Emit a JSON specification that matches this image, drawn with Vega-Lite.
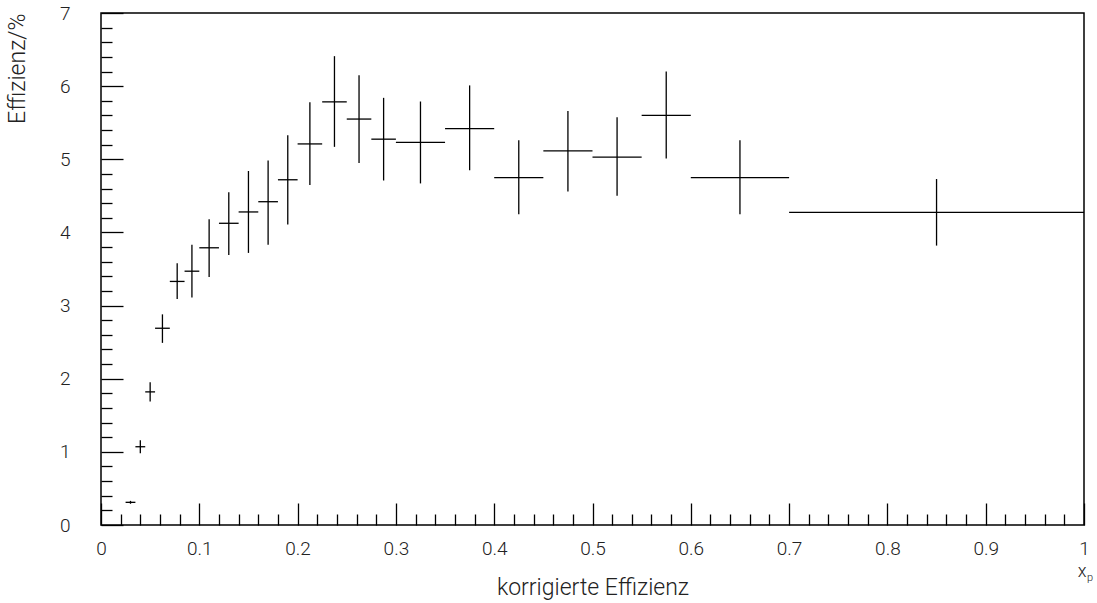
{
  "$schema": "https://vega.github.io/schema/vega-lite/v6.json",
  "autosize": "none",
  "width": 983,
  "height": 512,
  "padding": {"left": 101, "top": 13, "right": 13, "bottom": 78},
  "background": "white",
  "config": {
    "view": {"stroke": "black", "strokeWidth": 1.5},
    "font": "Roboto",
    "axis": {
      "domain": false,
      "grid": false,
      "labelFont": "Roboto",
      "titleFont": "Roboto",
      "labelFontWeight": 300,
      "titleFontWeight": 300,
      "labelColor": "#222",
      "titleColor": "#222",
      "labelFontSize": 19,
      "titleFontSize": 23,
      "tickColor": "black",
      "tickWidth": 1.3,
      "labelOverlap": false,
      "labelFlush": false,
      "labelBound": false
    }
  },
  "datasets": {
    "pts": [
      {"x": 0.03, "xlo": 0.025, "xhi": 0.035, "y": 0.31, "ylo": 0.29, "yhi": 0.33},
      {"x": 0.04, "xlo": 0.035, "xhi": 0.045, "y": 1.07, "ylo": 0.98, "yhi": 1.16},
      {"x": 0.05, "xlo": 0.045, "xhi": 0.055, "y": 1.82, "ylo": 1.69, "yhi": 1.95},
      {"x": 0.0625, "xlo": 0.055, "xhi": 0.07, "y": 2.69, "ylo": 2.49, "yhi": 2.88},
      {"x": 0.0775, "xlo": 0.07, "xhi": 0.085, "y": 3.33, "ylo": 3.09, "yhi": 3.58},
      {"x": 0.0925, "xlo": 0.085, "xhi": 0.1, "y": 3.47, "ylo": 3.11, "yhi": 3.83},
      {"x": 0.11, "xlo": 0.1, "xhi": 0.12, "y": 3.79, "ylo": 3.39, "yhi": 4.18},
      {"x": 0.13, "xlo": 0.12, "xhi": 0.14, "y": 4.125, "ylo": 3.69, "yhi": 4.55},
      {"x": 0.15, "xlo": 0.14, "xhi": 0.16, "y": 4.28, "ylo": 3.72, "yhi": 4.84},
      {"x": 0.17, "xlo": 0.16, "xhi": 0.18, "y": 4.42, "ylo": 3.83, "yhi": 4.985},
      {"x": 0.19, "xlo": 0.18, "xhi": 0.2, "y": 4.72, "ylo": 4.11, "yhi": 5.33},
      {"x": 0.2125, "xlo": 0.2, "xhi": 0.225, "y": 5.21, "ylo": 4.65, "yhi": 5.78},
      {"x": 0.2375, "xlo": 0.225, "xhi": 0.25, "y": 5.785, "ylo": 5.17, "yhi": 6.41},
      {"x": 0.2625, "xlo": 0.25, "xhi": 0.275, "y": 5.55, "ylo": 4.95, "yhi": 6.15},
      {"x": 0.2875, "xlo": 0.275, "xhi": 0.3, "y": 5.275, "ylo": 4.71, "yhi": 5.84},
      {"x": 0.325, "xlo": 0.3, "xhi": 0.35, "y": 5.23, "ylo": 4.67, "yhi": 5.79},
      {"x": 0.375, "xlo": 0.35, "xhi": 0.4, "y": 5.42, "ylo": 4.85, "yhi": 6.01},
      {"x": 0.425, "xlo": 0.4, "xhi": 0.45, "y": 4.75, "ylo": 4.25, "yhi": 5.26},
      {"x": 0.475, "xlo": 0.45, "xhi": 0.5, "y": 5.115, "ylo": 4.56, "yhi": 5.66},
      {"x": 0.525, "xlo": 0.5, "xhi": 0.55, "y": 5.03, "ylo": 4.5, "yhi": 5.575},
      {"x": 0.575, "xlo": 0.55, "xhi": 0.6, "y": 5.6, "ylo": 5.01, "yhi": 6.2},
      {"x": 0.65, "xlo": 0.6, "xhi": 0.7, "y": 4.75, "ylo": 4.25, "yhi": 5.26},
      {"x": 0.85, "xlo": 0.7, "xhi": 1.0, "y": 4.275, "ylo": 3.82, "yhi": 4.73}
    ],
    "note": [
      {"x": 1.0, "y": 0, "t": "x", "s": "p"}
    ]
  },
  "layer": [
    {
      "data": {"name": "pts"},
      "mark": {"type": "rule", "color": "black", "strokeWidth": 1.3},
      "encoding": {
        "x": {
          "field": "xlo", "type": "quantitative",
          "scale": {"domain": [0, 1], "nice": false, "zero": false},
          "axis": {
            "title": "korrigierte Effizienz",
            "tickCount": 200,
            "values": [0,0.02,0.04,0.06,0.08,0.1,0.12,0.14,0.16,0.18,0.2,0.22,0.24,0.26,0.28,0.3,0.32,0.34,0.36,0.38,0.4,0.42,0.44,0.46,0.48,0.5,0.52,0.54,0.56,0.58,0.6,0.62,0.64,0.66,0.68,0.7,0.72,0.74,0.76,0.78,0.8,0.82,0.84,0.86,0.88,0.9,0.92,0.94,0.96,0.98,1],
            "tickSize": {"condition": {"test": "abs(datum.value*10 - round(datum.value*10)) < 1e-6", "value": -22}, "value": -11},
            "labelExpr": "abs(datum.value*10 - round(datum.value*10)) < 1e-6 ? format(datum.value, '.1~f') : ''",
            "labelPadding": 36,
            "titlePadding": 7
          }
        },
        "x2": {"field": "xhi"},
        "y": {
          "field": "y", "type": "quantitative",
          "scale": {"domain": [0, 7], "nice": false, "zero": false},
          "axis": {
            "title": "Effizienz/%",
            "titleAnchor": "end",
            "tickCount": 200,
            "values": [0,0.2,0.4,0.6,0.8,1,1.2,1.4,1.6,1.8,2,2.2,2.4,2.6,2.8,3,3.2,3.4,3.6,3.8,4,4.2,4.4,4.6,4.8,5,5.2,5.4,5.6,5.8,6,6.2,6.4,6.6,6.8,7],
            "tickSize": {"condition": {"test": "abs(datum.value - round(datum.value)) < 1e-6", "value": -22}, "value": -11},
            "labelExpr": "abs(datum.value - round(datum.value)) < 1e-6 ? format(datum.value, 'd') : ''",
            "labelPadding": 53,
            "titlePadding": 30
          }
        }
      }
    },
    {
      "data": {"name": "pts"},
      "mark": {"type": "rule", "color": "black", "strokeWidth": 1.3},
      "encoding": {
        "x": {"field": "x", "type": "quantitative"},
        "y": {"field": "ylo", "type": "quantitative"},
        "y2": {"field": "yhi"}
      }
    },
    {
      "data": {"name": "note"},
      "mark": {"type": "text", "fontSize": 18, "fontWeight": 300, "color": "#222", "align": "center", "baseline": "middle", "dy": 47, "dx": -2, "font": "Roboto"},
      "encoding": {
        "x": {"field": "x", "type": "quantitative"},
        "y": {"field": "y", "type": "quantitative"},
        "text": {"field": "t"}
      }
    },
    {
      "data": {"name": "note"},
      "mark": {"type": "text", "fontSize": 11, "fontWeight": 300, "color": "#222", "align": "center", "baseline": "middle", "dy": 53, "dx": 6, "font": "Roboto"},
      "encoding": {
        "x": {"field": "x", "type": "quantitative"},
        "y": {"field": "y", "type": "quantitative"},
        "text": {"field": "s"}
      }
    }
  ]
}
